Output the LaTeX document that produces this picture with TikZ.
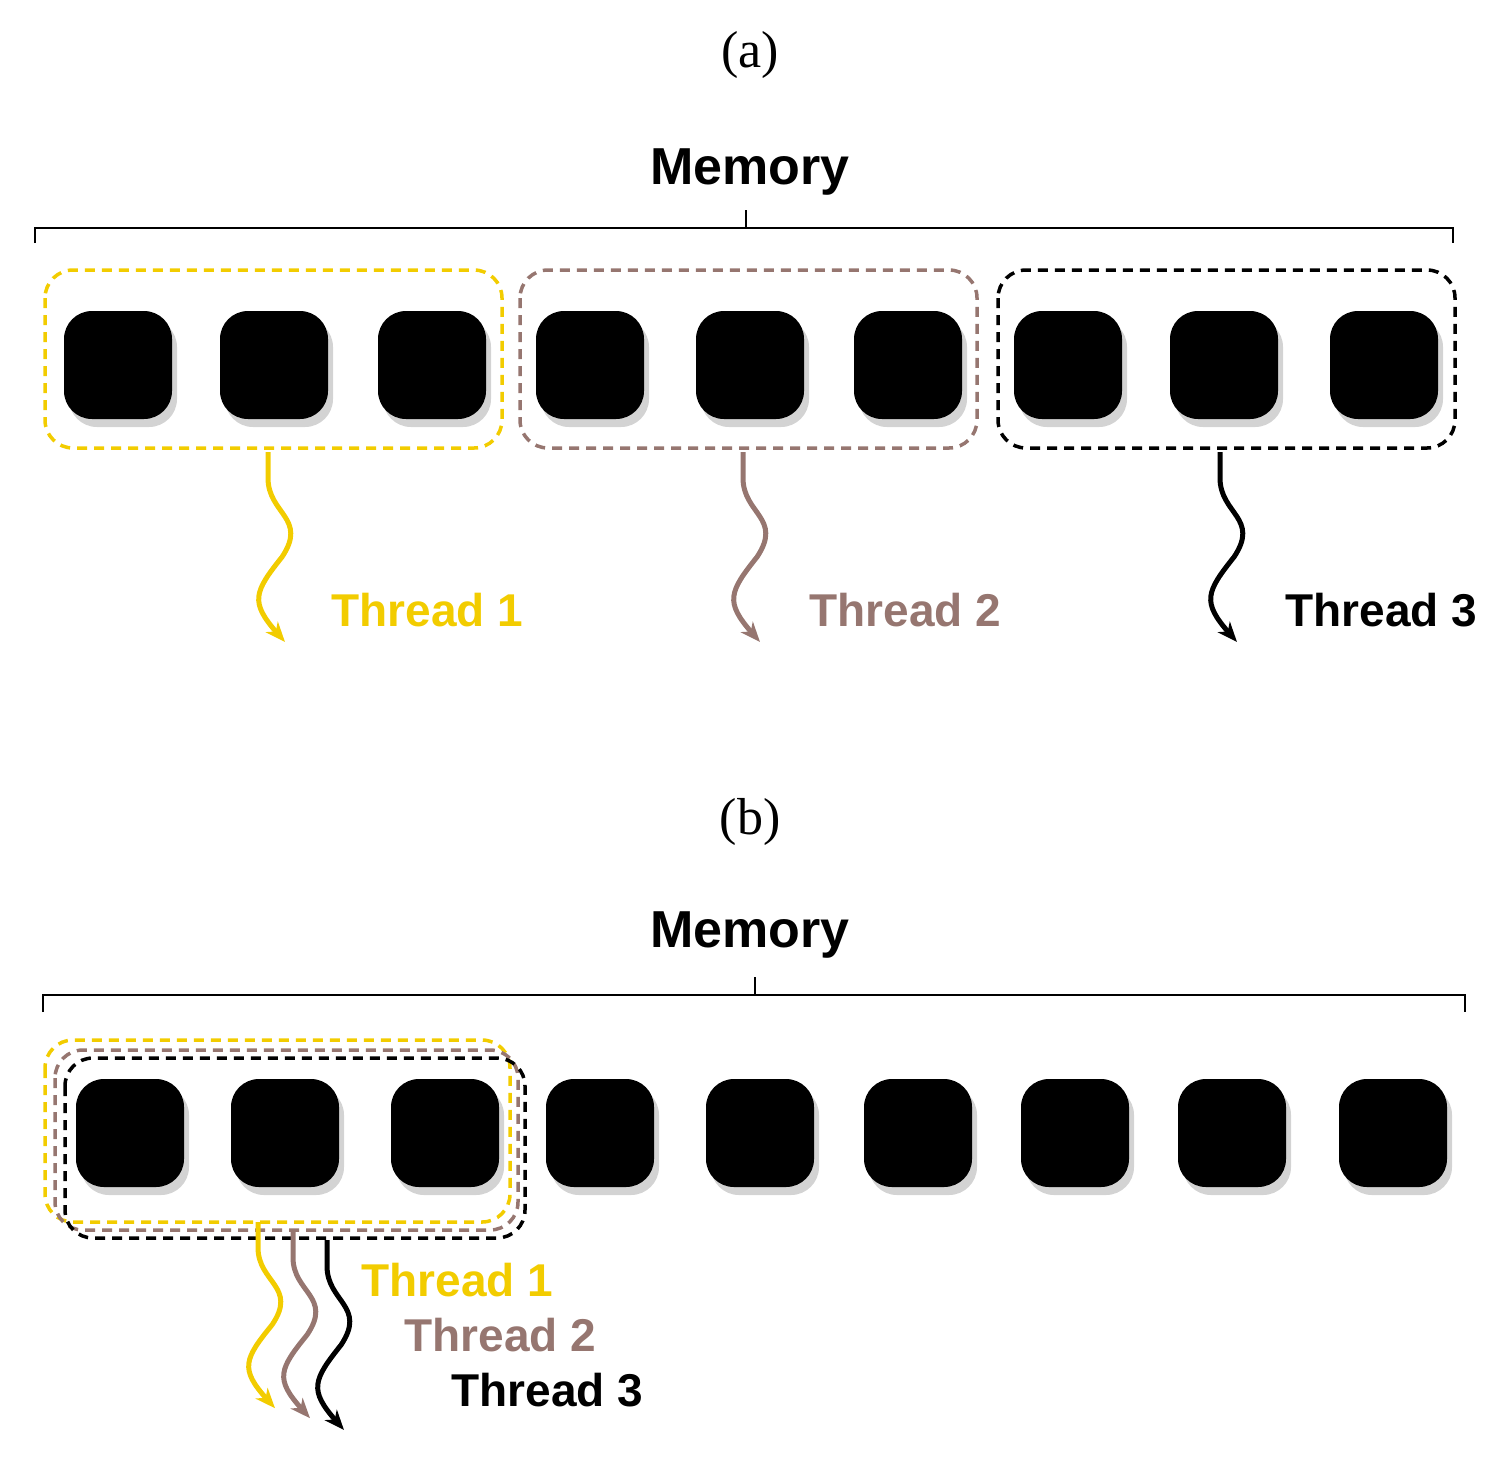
\documentclass[tikz,border=0pt]{standalone}
\usepackage{fontspec}
\setmainfont{Liberation Serif}
\newfontfamily\labelfont{Liberation Sans}
\usetikzlibrary{shadows,arrows.meta}
\definecolor{tyellow}{RGB}{242,204,0}
\definecolor{tbrown}{RGB}{150,118,112}
\tikzset{
  cell/.style={fill=black,minimum size=108pt,rounded corners=28pt,inner sep=0pt,
    drop shadow={shadow xshift=5pt,shadow yshift=-8pt,opacity=.35}},
  group/.style={draw=#1,dashed,line width=3.5pt,rounded corners=28pt,dash pattern=on 10pt off 7pt},
  thread/.style={draw=#1,line width=5pt,-{Stealth[length=20pt,width=16pt,inset=6pt]}},
  tlabel/.style={text=#1,font=\labelfont\bfseries\fontsize{46}{50}\selectfont,anchor=west},
  title/.style={font=\labelfont\bfseries\fontsize{52}{56}\selectfont},
  caption/.style={font=\fontsize{52}{56}\selectfont}
}
\newcommand\wave[3]{% colour, start, yscale
  \begin{scope}[shift={(#2)},yscale=#3]
    \draw[thread=#1] (0,0) -- (0,26) .. controls (0,62) and (40,66) .. (14,105)
      .. controls (-14,140) and (-18,150) .. (17,190);
  \end{scope}}
\begin{document}
\begin{tikzpicture}[x=1pt,y=-1pt]
  \useasboundingbox (0,0) rectangle (1503,1460);

  % (a)
  \node[caption] (capa) at (750,55) {(a)};
  \node[title] (mema) at (750,172) {Memory};
  \draw[line width=2pt] (35,243) -- (35,228) -- (1453,228) -- (1453,243)
    (746,228) -- (746,210);
  \foreach \i/\x in {1/118,2/274,3/432,4/590,5/750,6/908,7/1068,8/1224,9/1384}
    \node[cell] (a\i) at (\x,365) {};
  \draw[group=tyellow] (45,270) rectangle (502,448);
  \draw[group=tbrown] (520,270) rectangle (977,448);
  \draw[group=black] (998,270) rectangle (1455,448);
  \coordinate (ta1) at (268,452);
  \coordinate (ta2) at (743,452);
  \coordinate (ta3) at (1220,452);
  \wave{tyellow}{ta1}{1}
  \wave{tbrown}{ta2}{1}
  \wave{black}{ta3}{1}
  \node[tlabel=tyellow] (la1) at (328,610) {Thread 1};
  \node[tlabel=tbrown] (la2) at (806,610) {Thread 2};
  \node[tlabel=black] (la3) at (1282,610) {Thread 3};

  % (b)
  \node[caption] (capb) at (750,822) {(b)};
  \node[title] (memb) at (750,935) {Memory};
  \draw[line width=2pt] (43,1012) -- (43,995) -- (1465,995) -- (1465,1012)
    (755,995) -- (755,977);
  \foreach \i/\x in {1/130,2/285,3/445,4/600,5/760,6/918,7/1075,8/1232,9/1393}
    \node[cell] (b\i) at (\x,1133) {};
  \draw[group=tyellow] (45,1040) rectangle (510,1222);
  \draw[group=tbrown] (55,1050) rectangle (518,1230);
  \draw[group=black] (65,1058) rectangle (525,1238);
  \coordinate (tb1) at (258,1222);
  \coordinate (tb2) at (293,1232);
  \coordinate (tb3) at (327,1240);
  \wave{tyellow}{tb1}{.98}
  \wave{tbrown}{tb2}{.98}
  \wave{black}{tb3}{1}
  \node[tlabel=tyellow] (lb1) at (358,1280) {Thread 1};
  \node[tlabel=tbrown] (lb2) at (401,1335) {Thread 2};
  \node[tlabel=black] (lb3) at (448,1390) {Thread 3};
\end{tikzpicture}
\end{document}
